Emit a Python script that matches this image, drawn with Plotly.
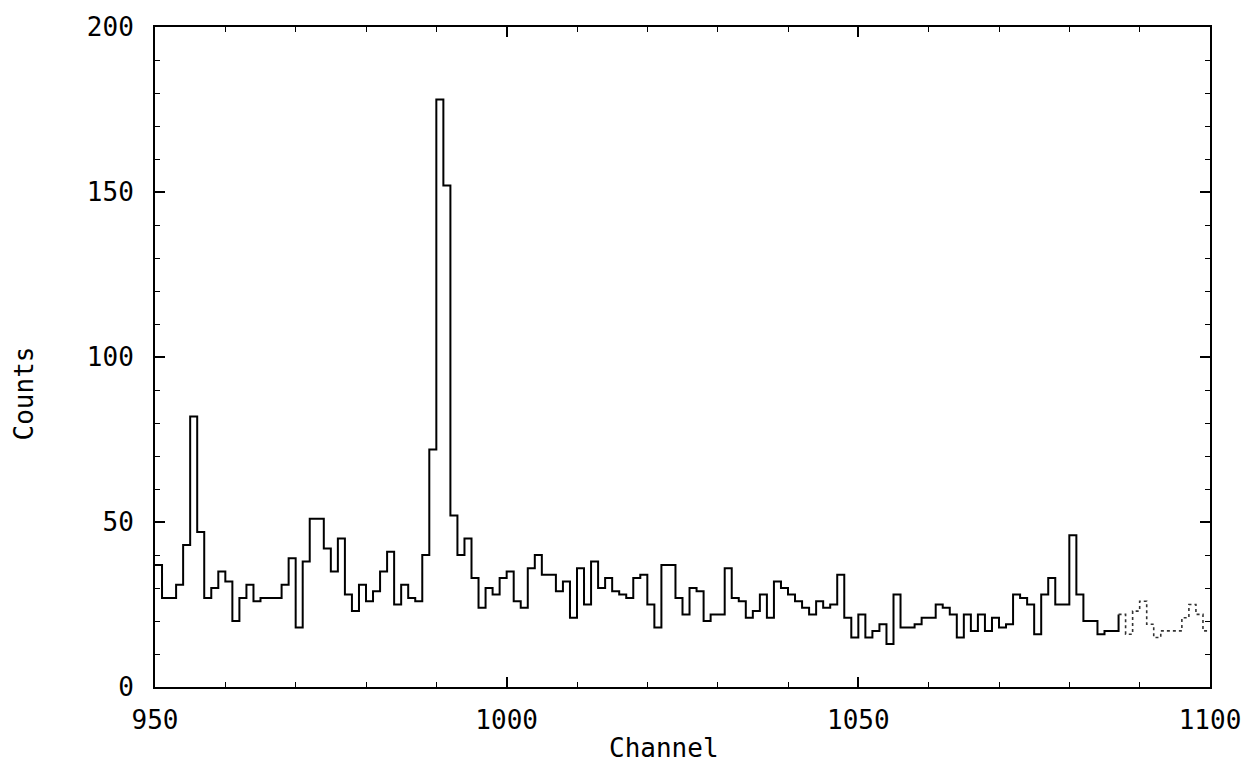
import plotly.graph_objects as go

first_channel = 950
counts = [
    37, 27, 27, 31, 43, 82, 47, 27, 30, 35,   # 950-959
    32, 20, 27, 31, 26, 27, 27, 27, 31, 39,   # 960-969
    18, 38, 51, 51, 42, 35, 45, 28, 23, 31,   # 970-979
    26, 29, 35, 41, 25, 31, 27, 26, 40, 72,   # 980-989
    178, 152, 52, 40, 45, 33, 24, 30, 28, 33, # 990-999
    35, 26, 24, 36, 40, 34, 34, 29, 32, 21,   # 1000-1009
    36, 25, 38, 30, 33, 29, 28, 27, 33, 34,   # 1010-1019
    25, 18, 37, 37, 27, 22, 30, 29, 20, 22,   # 1020-1029
    22, 36, 27, 26, 21, 23, 28, 21, 32, 30,   # 1030-1039
    28, 26, 24, 22, 26, 24, 25, 34, 21, 15,   # 1040-1049
    22, 15, 17, 19, 13, 28, 18, 18, 19, 21,   # 1050-1059
    21, 25, 24, 22, 15, 22, 17, 22, 17, 21,   # 1060-1069
    18, 19, 28, 27, 25, 16, 28, 33, 25, 25,   # 1070-1079
    46, 28, 20, 20, 16, 17, 17, 22, 16, 23,   # 1080-1089
    26, 19, 15, 17, 17, 17, 21, 25, 22, 17,   # 1090-1099
]
channels = [first_channel + i for i in range(len(counts))]

x_ticks = [950, 1000, 1050, 1100]
y_ticks = [0, 50, 100, 150, 200]
x_label = "Channel"
y_label = "Counts"
faint_from = 1087  # channel where the printed trace becomes faint/broken

# bin edges for a step histogram
edges_x = channels + [channels[-1] + 1]
edges_y = counts + [counts[-1]]
split = channels.index(faint_from)

fig = go.Figure()
fig.add_trace(go.Scatter(
    x=edges_x[:split + 1], y=edges_y[:split + 1], mode="lines",
    line=dict(shape="hv", color="black", width=2), showlegend=False,
    hoverinfo="skip"))
fig.add_trace(go.Scatter(
    x=edges_x[split:], y=edges_y[split:], mode="lines",
    line=dict(shape="hv", color="#333333", width=1.6, dash="dot"),
    showlegend=False, hoverinfo="skip"))

font_family = "DejaVu Sans Mono"
text_font = dict(family=font_family, size=26, color="black")
axis_common = dict(
    showgrid=False, zeroline=False, showline=True, linecolor="black",
    linewidth=2, mirror="allticks", ticks="inside", ticklen=10,
    tickwidth=1.5, tickcolor="black", tickfont=text_font,
)

fig.update_layout(
    width=1253, height=766,
    margin=dict(l=155, r=43, t=22, b=79),
    paper_bgcolor="white", plot_bgcolor="white",
    xaxis=dict(
        range=[950, 1100], tickvals=x_ticks, ticktext=[str(v) for v in x_ticks],
        minor=dict(ticks="inside", dtick=10, tick0=950, ticklen=5,
                   tickcolor="black", tickwidth=1.2),
        ticklabelstandoff=9,
        **axis_common),
    yaxis=dict(
        range=[0, 200], tickvals=y_ticks, ticktext=[str(v) for v in y_ticks],
        minor=dict(ticks="inside", dtick=10, tick0=0, ticklen=5,
                   tickcolor="black", tickwidth=1.2),
        ticklabelstandoff=14,
        **axis_common),
    annotations=[
        dict(text=x_label, xref="paper", yref="paper", x=0.482, y=-0.092,
             xanchor="center", yanchor="middle", showarrow=False,
             font=text_font),
        dict(text=y_label, xref="paper", yref="paper", x=-0.124, y=0.445,
             xanchor="center", yanchor="middle", showarrow=False,
             textangle=-90, font=text_font),
    ],
)

fig.write_html("out.html")
